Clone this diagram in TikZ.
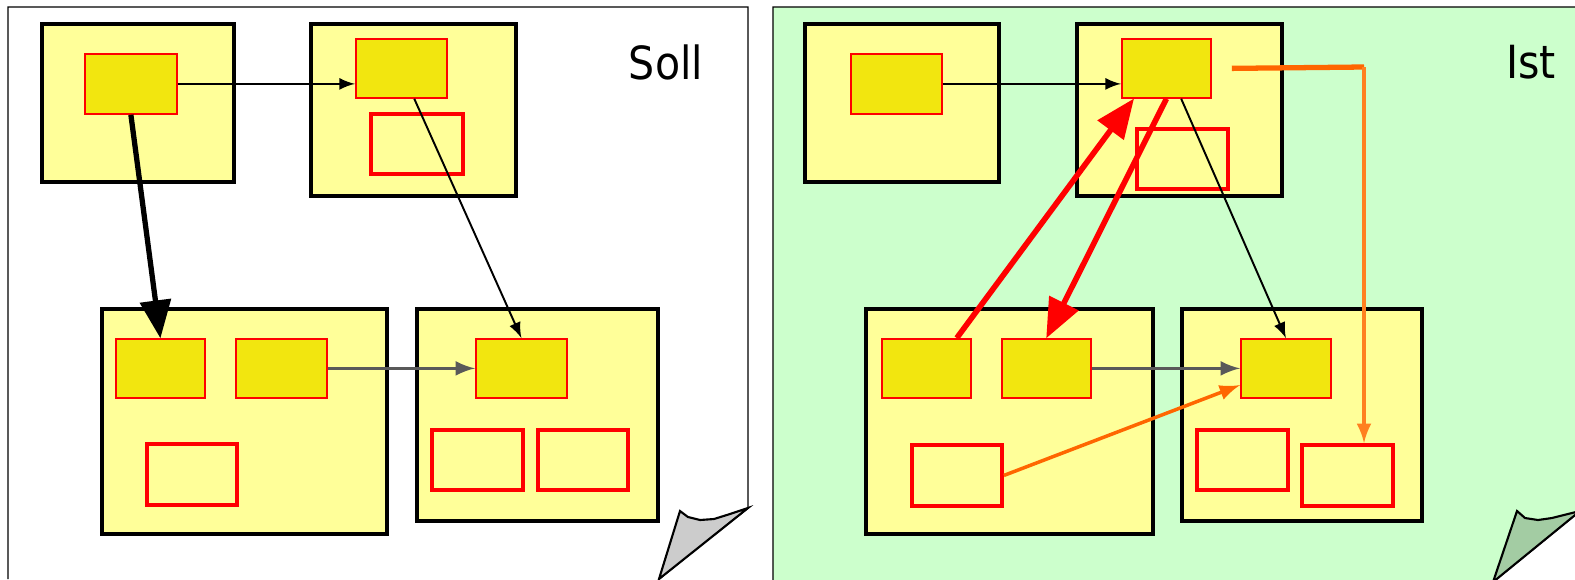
\documentclass[tikz,border=0pt]{standalone}
\usepackage{fontspec}
\usepackage{tikz}
\usetikzlibrary{arrows,positioning}
\newfontfamily\labelfont{DejaVu Sans Condensed}
\definecolor{boxyellow}{HTML}{FFFF99}
\definecolor{partyellow}{HTML}{F2E60F}
\definecolor{istgreen}{HTML}{CCFFCC}
\definecolor{eargreen}{HTML}{A3CCA3}
\definecolor{eargray}{HTML}{CCCCCC}
\definecolor{darkorange}{HTML}{FF6600}
\definecolor{lightorange}{HTML}{FF8020}
\tikzset{font=\labelfont\fontsize{13}{15}\selectfont}
\tikzset{wh/.style 2 args={minimum width=#1mm, minimum height=#2mm},
  unit/.style={draw=black, line width=1.2pt, fill=boxyellow, anchor=north west, inner sep=0pt},
  part/.style={draw=red, line width=0.5pt, fill=partyellow, anchor=north west, inner sep=0pt},
  slot/.style={draw=red, line width=1.1pt, fill=boxyellow, anchor=north west, inner sep=0pt},
  link/.style={draw=black, line width=0.55pt, -latex},
  heavy/.style={line width=1.5pt, -triangle 45},
  flow/.style={draw=black!65, line width=0.9pt, -latex}}

\begin{document}
\begin{tikzpicture}[x=0.1mm, y=-0.1mm]
  \useasboundingbox (0,0) rectangle (1575,579);

  % pages
  \draw[fill=white, line width=0.4pt] (8,579) -- (8,7) -- (748,7) -- (748,508) -- (659,579);
  \draw[fill=eargray, line width=0.6pt] (680,511) -- (688,517) -- (700,520) -- (714,519) -- (730,514) -- (748,508) -- (659,579) -- cycle;
  \draw[fill=istgreen, line width=0.4pt] (773,582) -- (773,7) -- (1580,7) -- (1580,511) -- (1493,582) -- cycle;
  \draw[fill=eargreen, line width=0.6pt] (1517,511) -- (1525,518) -- (1538,520) -- (1552,518) -- (1580,511) -- (1493,582) -- cycle;

  \node (soll) at (666,62) {Soll};
  \node (ist) at (1531,62) {Ist};

  % Soll
  \node[unit, wh={19.2}{15.8}] (sA) at (40,22) {};
  \node[unit, wh={20.5}{17.2}] (sB) at (309,22) {};
  \node[unit, wh={28.5}{22.5}] (sC) at (100,307) {};
  \node[unit, wh={24.1}{21.2}] (sD) at (415,307) {};
  \node[part, wh={9.2}{6.0}] (sA1) at (84,53) {};
  \node[part, wh={9.1}{5.9}] (sB1) at (355,38) {};
  \node[slot, wh={9.2}{6.0}] (sB2) at (369,112) {};
  \node[part, wh={8.9}{5.9}] (sC1) at (115,338) {};
  \node[part, wh={9.1}{5.9}] (sC2) at (235,338) {};
  \node[slot, wh={9.0}{6.1}] (sC3) at (145,442) {};
  \node[part, wh={9.1}{5.9}] (sD1) at (475,338) {};
  \node[slot, wh={9.1}{6.0}] (sD2) at (430,428) {};
  \node[slot, wh={9.0}{6.0}] (sD3) at (536,428) {};

  \draw[link] (sA1.east) -- (sA1.east -| sB1.west);
  \draw[heavy] (sA1.south) -- (sC1.north);
  \draw[link] (sB1.-67) -- (sD1.north);
  \draw[flow] (sC2.east) -- (sD1.west);

  % Ist
  \node[unit, wh={19.4}{15.8}] (iA) at (803,22) {};
  \node[unit, wh={20.5}{17.2}] (iB) at (1075,22) {};
  \node[unit, wh={28.7}{22.5}] (iC) at (864,307) {};
  \node[unit, wh={24.0}{21.2}] (iD) at (1180,307) {};
  \node[part, wh={9.1}{6.0}] (iA1) at (850,53) {};
  \node[part, wh={8.9}{5.9}] (iB1) at (1121,38) {};
  \node[slot, wh={9.1}{6.0}] (iB2) at (1135,127) {};
  \node[part, wh={8.9}{5.9}] (iC1) at (881,338) {};
  \node[part, wh={8.9}{5.9}] (iC2) at (1001,338) {};
  \node[slot, wh={9.0}{6.1}] (iC3) at (910,443) {};
  \node[part, wh={9.0}{5.9}] (iD1) at (1240,338) {};
  \node[slot, wh={9.1}{6.0}] (iD2) at (1195,428) {};
  \node[slot, wh={9.1}{6.1}] (iD3) at (1300,443) {};

  \draw[link] (iA1.east) -- (iA1.east -| iB1.west);
  \draw[heavy, red, line width=1.6pt] (iC1.45) -- (iB1.223);
  \draw[heavy, red, line width=1.6pt] (iB1.south) -- (iC2.north);
  \draw[link] (iB1.-64) -- (iD1.north);
  \draw[flow] (iC2.east) -- (iD1.west);

  \coordinate (bend) at (1364,67);
  \draw[darkorange, line width=1.5pt] ([xshift=2mm]iB1.east) -- (bend);
  \draw[link, draw=lightorange, line width=0.9pt] (bend) -- (bend |- iD3.north);
  \draw[link, draw=darkorange, line width=1.0pt] (iC3.east) -- (iD1.200);
\end{tikzpicture}
\end{document}
